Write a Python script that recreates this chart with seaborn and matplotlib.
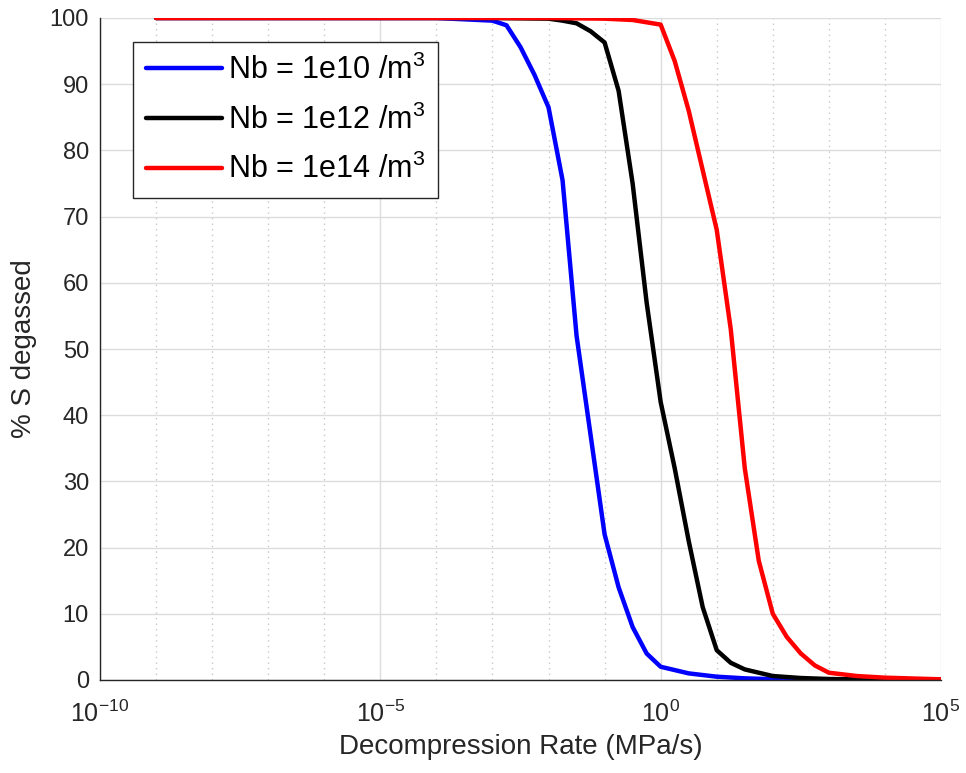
import numpy as np
import pandas as pd
import seaborn as sns
import matplotlib
matplotlib.use("Agg")
import matplotlib.pyplot as plt
from matplotlib.ticker import FixedLocator, NullFormatter

# ---- data (log10 of decompression rate, % S degassed) ----
blue_logx = [-9, -5, -4, -3, -2.75, -2.5, -2.25, -2, -1.75, -1.5, -1.25, -1,
             -0.75, -0.5, -0.25, 0, 0.5, 1, 1.5, 2, 3, 4, 5]
blue_y = [100, 100, 100, 99.6, 98.9, 95.6, 91.4, 86.5, 75.5, 52, 37, 22,
          14, 8, 4, 2, 1.0, 0.5, 0.25, 0.12, 0.03, 0.01, 0.0]

black_logx = [-9, -5, -3, -2, -1.75, -1.5, -1.25, -1, -0.75, -0.5, -0.25, 0,
              0.25, 0.5, 0.75, 1, 1.25, 1.5, 2, 2.5, 3, 4, 5]
black_y = [100, 100, 100, 99.9, 99.6, 99.2, 98, 96.3, 89, 75, 57, 42,
           32, 21, 11, 4.5, 2.6, 1.6, 0.6, 0.3, 0.15, 0.05, 0.02]

red_logx = [-9, -5, -2, -1, -0.5, 0, 0.25, 0.5, 0.75, 1, 1.25, 1.5, 1.75,
            2, 2.25, 2.5, 2.75, 3, 3.5, 4, 5]
red_y = [100, 100, 100, 99.9, 99.7, 99, 93.5, 86, 77, 68, 53, 32, 18,
         10, 6.5, 4, 2.2, 1.1, 0.6, 0.35, 0.1]

labels = ["Nb = 1e10 /m$^3$", "Nb = 1e12 /m$^3$", "Nb = 1e14 /m$^3$"]
colors = ["#0000FF", "#000000", "#FF0000"]
xtick_values = [1e-10, 1e-5, 1e0, 1e5]
ytick_values = list(range(0, 101, 10))

frames = []
for lab, lx, yy in zip(labels, [blue_logx, black_logx, red_logx],
                       [blue_y, black_y, red_y]):
    frames.append(pd.DataFrame({"rate": 10.0 ** np.array(lx, dtype=float),
                                "pct": yy, "series": lab}))
df = pd.concat(frames, ignore_index=True)

sns.set_theme(style="white")
plt.rcParams["font.family"] = ["Liberation Sans", "DejaVu Sans"]
plt.rcParams["mathtext.fontset"] = "custom"
plt.rcParams["mathtext.rm"] = "Liberation Sans"
plt.rcParams["mathtext.it"] = "Liberation Sans"
plt.rcParams["mathtext.bf"] = "Liberation Sans"

fig = plt.figure(figsize=(9.66, 7.73), dpi=100)
ax = fig.add_axes([100 / 966, (773 - 680) / 773, (941 - 100) / 966, (680 - 18) / 773])

sns.lineplot(data=df, x="rate", y="pct", hue="series", palette=colors,
             hue_order=labels, linewidth=3.2, ax=ax, sort=False, estimator=None)

ax.set_xscale("log")
ax.set_xlim(1e-10, 1e5)
ax.set_ylim(0, 100)
ax.xaxis.set_major_locator(FixedLocator(xtick_values))
ax.xaxis.set_major_formatter(matplotlib.ticker.FuncFormatter(
    lambda v, p: "$10^{%d}$" % int(round(np.log10(v)))))
ax.xaxis.set_minor_locator(FixedLocator([10.0 ** k for k in range(-10, 6)
                                         if k % 5 != 0]))
ax.xaxis.set_minor_formatter(NullFormatter())
ax.set_yticks(ytick_values)

gc = "#262626"
for s in ["top", "right"]:
    ax.spines[s].set_visible(False)
for s in ["left", "bottom"]:
    ax.spines[s].set_color(gc)
    ax.spines[s].set_linewidth(1.0)

ax.tick_params(axis="both", which="major", direction="in", length=6,
               width=1.0, color=gc, labelsize=17, labelcolor=gc)
ax.tick_params(axis="x", which="major", labelsize=18, pad=15)
ax.tick_params(axis="y", which="major", pad=8)
ax.tick_params(axis="x", which="minor", direction="in", length=5,
               width=0.9, color=gc)

ax.grid(True, which="major", axis="both", color="#dcdcdc", linewidth=1.0,
        linestyle="-")
ax.grid(True, which="minor", axis="x", color="#c8c8c8", linewidth=1.0,
        linestyle=(0, (1, 3)))
ax.set_axisbelow(True)

ax.set_xlabel("Decompression Rate (MPa/s)", fontsize=20, color=gc, labelpad=5)
ax.set_ylabel("% S degassed", fontsize=20, color=gc, labelpad=9)

leg = ax.legend(loc="upper left", bbox_to_anchor=(33 / 841, (680 - 42) / 662),
                fontsize=22, frameon=True, fancybox=False, handlelength=2.5,
                handletextpad=0.2, borderpad=0.42, labelspacing=0.6,
                borderaxespad=0, title=None)
leg.get_frame().set_edgecolor(gc)
leg.get_frame().set_linewidth(1.0)
leg.get_frame().set_alpha(1)
for t in leg.get_texts():
    t.set_color("black")

fig.savefig("out.png", dpi=100, facecolor="white")
